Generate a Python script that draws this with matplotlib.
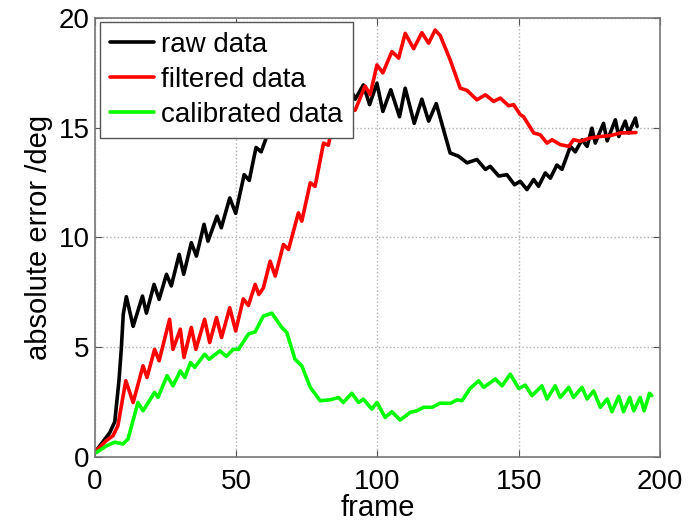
import matplotlib
matplotlib.use('Agg')
import matplotlib.pyplot as plt

plt.rcParams['font.family'] = ['Liberation Sans', 'DejaVu Sans']

# raw data (black)
raw_x = [0.5, 5.2, 7.0, 8.5, 9.3, 10.0, 11.1, 13.5, 16.8, 18.2, 20.9, 22.7, 25.3, 27.0,
         29.8, 31.4, 34.1, 35.9, 38.6, 40.0, 43.2, 44.7, 47.7, 49.8, 52.8, 54.6, 57.0,
         58.8, 60.8, 62.5, 64.0, 66.0, 68.0, 70.0, 72.0, 75.0, 77.0, 80.0, 82.0, 85.0,
         87.0, 90.0, 92.1, 95.0, 97.2, 99.8, 101.9, 104.7, 107.8, 109.8, 113.0, 115.7,
         118.1, 120.8, 123.4, 125.7, 128.7, 131.7, 135.2, 138.2, 139.9, 142.9, 145.8,
         148.5, 150.5, 152.9, 155.3, 157.0, 159.4, 161.2, 163.5, 165.3, 168.3, 170.0,
         172.4, 174.2, 175.9, 177.1, 180.0, 181.3, 184.2, 185.4, 187.7, 188.9, 191.3, 191.9]
raw_y = [0.3, 1.1, 1.6, 3.5, 4.9, 6.5, 7.3, 5.95, 7.33, 6.55, 7.86, 7.18, 8.32, 7.79,
         9.23, 8.32, 9.76, 9.15, 10.6, 9.83, 10.97, 10.44, 11.8, 11.1, 12.86, 12.6, 14.1,
         13.9, 14.6, 15.3, 14.9, 15.6, 15.2, 16.0, 15.6, 16.2, 15.8, 16.5, 16.1, 16.8,
         16.3, 16.9, 16.3, 16.95, 16.05, 17.03, 15.74, 16.73, 15.5, 16.8, 15.2, 16.3,
         15.3, 16.1, 14.9, 13.85, 13.7, 13.4, 13.55, 13.1, 13.24, 12.8, 12.86,
         12.4, 12.56, 12.18, 12.64, 12.33, 12.94, 12.7, 13.3, 13.1, 14.15, 13.9,
         14.45, 14.15, 14.98, 14.3, 15.2, 14.4, 15.36, 14.6, 15.3, 14.76, 15.44, 15.06]

# filtered data (red)
filt_x = [0.5, 4.0, 6.4, 8.1, 10.9, 13.5, 17.0, 18.4, 21.1, 22.7, 26.4, 27.6, 30.2, 31.5,
          34.1, 35.7, 38.8, 40.6, 43.0, 44.8, 47.7, 49.8, 52.5, 54.3, 56.7, 58.0, 59.6,
          62.0, 63.8, 66.7, 68.5, 72.0, 73.2, 76.2, 77.9, 80.9, 82.6, 84.4, 86.0, 88.0,
          90.0, 92.1, 95.6, 97.4, 99.8, 101.9, 105.1, 107.5, 109.8, 112.8, 115.7, 118.1,
          120.4, 122.2, 125.7, 129.3, 131.7, 135.2, 138.2, 141.1, 143.5, 146.4, 148.2,
          150.5, 151.7, 155.3, 157.6, 160.0, 161.8, 164.7, 167.7, 169.4, 171.8, 175.3,
          178.9, 182.4, 186.0, 191.5]
filt_y = [0.29, 0.74, 0.97, 1.42, 3.47, 2.48, 4.15, 3.62, 4.9, 4.38, 6.27, 4.9, 5.82, 4.53,
          5.9, 4.9, 6.27, 5.21, 6.35, 5.44, 6.8, 5.74, 7.2, 6.9, 7.86, 7.4, 7.7,
          8.92, 8.24, 9.68, 9.45, 11.12, 10.74, 12.49, 12.33, 14.3, 14.2, 15.3, 15.1, 16.0,
          15.8, 15.8, 16.9, 16.5, 17.86, 17.5, 18.47, 18.17, 19.3, 18.6, 19.33, 18.85,
          19.45, 19.2, 18.1, 16.8, 16.7, 16.27, 16.5, 16.2, 16.35, 16.0, 16.05,
          15.6, 15.5, 14.76, 14.68, 14.3, 14.45, 14.23, 14.15, 14.45, 14.38, 14.53,
          14.6, 14.64, 14.76, 14.78]

# calibrated data (green)
cal_x = [0.5, 4.0, 7.0, 9.9, 11.7, 15.2, 17.0, 21.1, 22.3, 25.5, 27.6, 30.2, 31.8, 33.8,
         35.3, 38.8, 40.4, 44.2, 46.5, 48.9, 50.8, 54.3, 56.7, 59.6, 62.6, 66.1, 67.9,
         70.8, 73.2, 76.2, 79.7, 83.2, 86.2, 87.9, 90.9, 93.3, 95.0, 98.0, 99.8, 102.7,
         105.1, 108.0, 111.6, 113.9, 116.3, 119.3, 122.2, 125.8, 128.1, 129.9, 132.8,
         135.8, 137.6, 141.7, 144.1, 147.0, 150.0, 152.3, 154.7, 158.2, 160.0, 162.9,
         164.7, 167.7, 169.4, 172.4, 174.2, 176.5, 178.9, 181.3, 183.0, 185.4, 187.1,
         189.3, 190.7, 193.0, 194.4, 196.3, 197.1]
cal_y = [0.2, 0.5, 0.67, 0.59, 0.82, 2.48, 2.1, 2.94, 2.71, 3.7, 3.24, 3.92, 3.62, 4.3,
         4.08, 4.68, 4.45, 4.83, 4.58, 4.9, 4.9, 5.6, 5.7, 6.42, 6.55, 5.9, 5.67,
         4.45, 4.15, 3.17, 2.56, 2.6, 2.71, 2.48, 2.9, 2.48, 2.63, 2.18, 2.48, 1.8,
         2.06, 1.68, 2.03, 2.1, 2.26, 2.26, 2.45, 2.44, 2.6, 2.56, 3.12,
         3.47, 3.17, 3.55, 3.24, 3.77, 3.12, 3.27, 2.79, 3.24, 2.64, 3.24,
         2.71, 3.17, 2.71, 3.17, 2.64, 3.01, 2.26, 2.64, 2.06, 2.76, 2.06,
         2.71, 2.1, 2.71, 2.1, 2.9, 2.79]

fig = plt.figure(figsize=(6.97, 5.21), dpi=100)
ax = fig.add_axes([0.1363, 0.123, 0.8106, 0.8425])

style = dict(lw=2.6, solid_joinstyle='round', solid_capstyle='round')
ax.plot(raw_x, raw_y, color='black', label='raw data', **style)
ax.plot(filt_x, filt_y, color='red', label='filtered data', **style)
ax.plot(cal_x, cal_y, color='#00ff00', label='calibrated data', **style)

ax.set_xlim(0, 200)
ax.set_ylim(0, 20)
ax.set_xticks([0, 50, 100, 150, 200])
ax.set_yticks([0, 5, 10, 15, 20])
ax.grid(True, linestyle=':', color='#b0b0b0', lw=1)
ax.tick_params(direction='in', top=True, right=True, labelsize=20,
               color='#555555', length=5)
ax.tick_params(axis='x', pad=9)
ax.tick_params(axis='y', pad=4)
for sp in ax.spines.values():
    sp.set_color('#777777')
    sp.set_linewidth(1.2)

ax.set_xlabel('frame', fontsize=21, labelpad=-1)
ax.set_ylabel('absolute error /deg', fontsize=21, labelpad=4)

leg = ax.legend(loc='upper left', bbox_to_anchor=(0.009, 0.99), borderaxespad=0,
                fontsize=20, fancybox=False, framealpha=1, edgecolor='#555555',
                handlelength=1.6, handletextpad=0.25, labelspacing=0.32, borderpad=0.35)
leg.get_frame().set_linewidth(1.0)

fig.savefig('out.png', dpi=100)
